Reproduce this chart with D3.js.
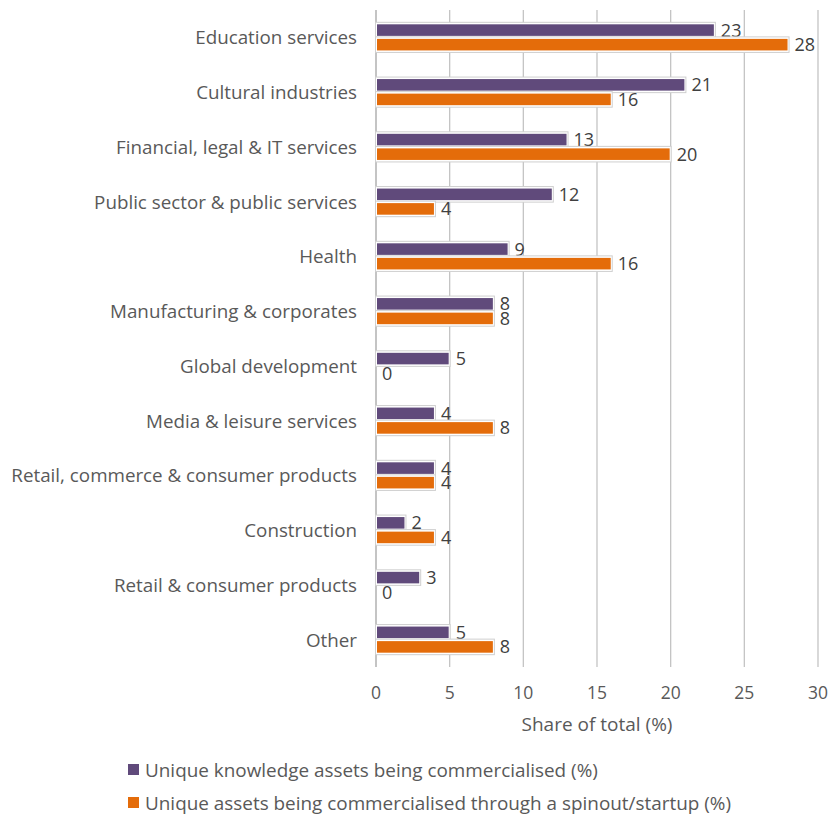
<!DOCTYPE html>
<html>
<head>
<meta charset="utf-8">
<script src="https://cdn.jsdelivr.net/npm/d3@7"></script>
<style>
  body { margin: 0; background: #fff; }
  text { font-family: "Open Sans", Lato, sans-serif; }
</style>
</head>
<body>
<script>
// data
const categories = [
  'Education services', 'Cultural industries', 'Financial, legal & IT services',
  'Public sector & public services', 'Health', 'Manufacturing & corporates',
  'Global development', 'Media & leisure services', 'Retail, commerce & consumer products',
  'Construction', 'Retail & consumer products', 'Other'
];
const knowledgeAssets = [23, 21, 13, 12, 9, 8, 5, 4, 4, 2, 3, 5];
const spinoutAssets = [28, 16, 20, 4, 16, 8, 0, 8, 4, 4, 0, 8];
const seriesNames = [
  'Unique knowledge assets being commercialised (%)',
  'Unique assets being commercialised through a spinout/startup (%)'
];
const xTicks = [0, 5, 10, 15, 20, 25, 30];

const colors = ['#604a7b', '#e46c0a'];
const margin = {top: 10, left: 376, right: 14};
const W = 832, H = 819;
const plotH = 657;

const svg = d3.select('body').append('svg')
  .attr('width', W).attr('height', H);

const x = d3.scaleLinear().domain([0, 30]).range([margin.left, W - margin.right]);
const y = d3.scaleBand().domain(categories).range([margin.top, margin.top + plotH]);
const inner = d3.scaleBand().domain([0, 1]).range([0, y.bandwidth()]).paddingOuter(0.88).paddingInner(0);

// gridlines
svg.append('g').selectAll('line').data(xTicks)
  .join('line')
  .attr('x1', d => x(d)).attr('x2', d => x(d))
  .attr('y1', margin.top).attr('y2', margin.top + plotH)
  .attr('stroke', '#c4c4c4').attr('stroke-width', d => d === 0 ? 2 : 1.3);

// tick labels
svg.append('g').selectAll('text').data(xTicks)
  .join('text')
  .attr('x', d => x(d)).attr('y', 699)
  .attr('text-anchor', 'middle')
  .attr('font-size', 17.5).attr('fill', '#595959')
  .text(d => d);

svg.append('text')
  .attr('x', x(15)).attr('y', 731)
  .attr('text-anchor', 'middle')
  .attr('font-size', 19).attr('fill', '#595959')
  .text('Share of total (%)');

// category labels
svg.append('g').selectAll('text').data(categories)
  .join('text')
  .attr('x', margin.left - 19)
  .attr('y', d => y(d) + y.bandwidth() / 2 + 7)
  .attr('text-anchor', 'end')
  .attr('font-size', 18.8).attr('fill', '#595959')
  .text(d => d);

const series = [knowledgeAssets, spinoutAssets];
series.forEach((vals, s) => {
  const g = svg.append('g');
  const rows = categories.map((c, i) => ({c, v: vals[i]}));
  // outer light border
  g.selectAll('rect.outer').data(rows.filter(d => d.v > 0))
    .join('rect').attr('class', 'outer')
    .attr('x', x(0) - 0.5)
    .attr('y', d => y(d.c) + inner(s) - 0.5)
    .attr('width', d => x(d.v) - x(0) + 1)
    .attr('height', inner.bandwidth() + 1)
    .attr('fill', '#fff')
    .attr('stroke', '#cfcfcf').attr('stroke-width', 1);
  g.selectAll('rect.bar').data(rows.filter(d => d.v > 0))
    .join('rect').attr('class', 'bar')
    .attr('x', x(0) + 1)
    .attr('y', d => y(d.c) + inner(s) + 1.5)
    .attr('width', d => x(d.v) - x(0) - 2)
    .attr('height', inner.bandwidth() - 3)
    .attr('fill', colors[s]);
  g.selectAll('text').data(rows)
    .join('text')
    .attr('x', d => x(d.v) + 6)
    .attr('y', d => y(d.c) + inner(s) + inner.bandwidth() / 2 + 6.5)
    .attr('font-size', 18).attr('fill', '#404040')
    .text(d => d.v);
});

// legend
const legend = svg.append('g').selectAll('g').data(seriesNames)
  .join('g')
  .attr('transform', (d, i) => `translate(128, ${770 + i * 33})`);
legend.append('rect')
  .attr('x', 0).attr('y', -6).attr('width', 11).attr('height', 11)
  .attr('fill', (d, i) => colors[i]);
legend.append('text')
  .attr('x', 17).attr('y', 6.5)
  .attr('font-size', 18.9).attr('fill', '#595959')
  .text(d => d);
</script>
</body>
</html>
